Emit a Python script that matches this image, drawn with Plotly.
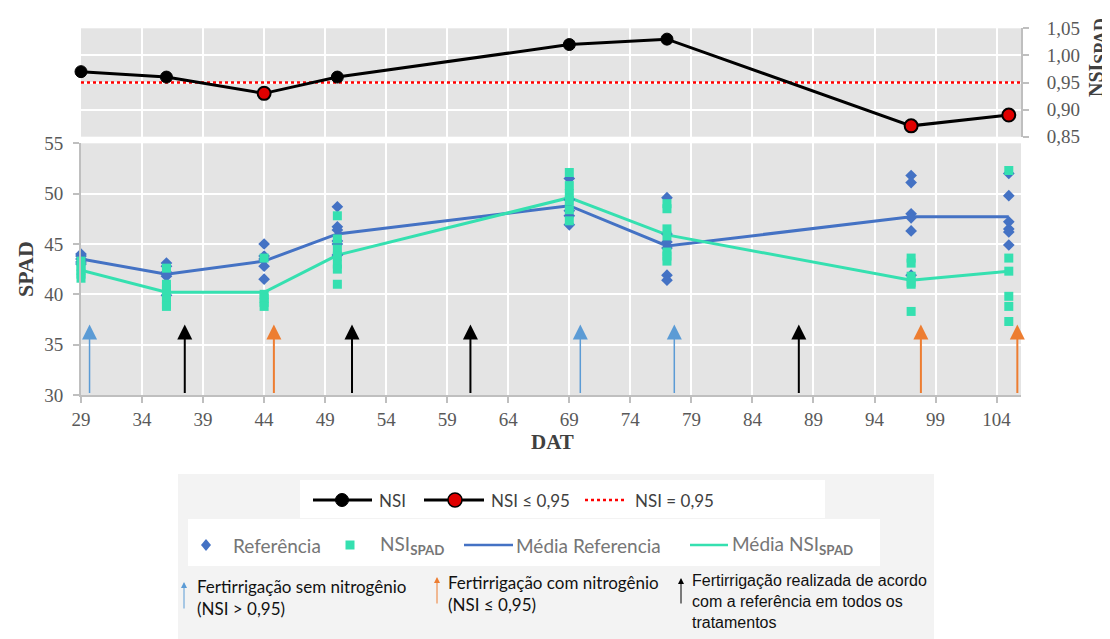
import plotly.graph_objects as go

# ---------------- data ----------------
dat = [29, 36, 44, 50, 69, 77, 97, 105]
nsi = [0.97, 0.96, 0.93, 0.96, 1.02, 1.03, 0.87, 0.89]
nsi_limite = 0.95

media_referencia = [43.5, 42.0, 43.3, 46.0, 48.8, 44.8, 47.7, 47.7]
media_nsi_spad = [42.4, 40.2, 40.2, 43.9, 49.6, 45.9, 41.4, 42.3]

referencia_pts = [
    [44.0, 43.8, 43.5, 43.2, 43.0],
    [43.1, 42.8, 42.2, 41.8, 42.0, 39.9],
    [45.0, 43.8, 43.5, 42.8, 41.5],
    [48.7, 46.7, 46.4, 45.0, 43.9, 45.3],
    [51.5, 49.4, 48.3, 47.8, 46.9],
    [49.6, 46.0, 45.2, 44.6, 41.9, 41.4],
    [51.8, 51.1, 48.0, 47.6, 46.3, 41.9],
    [52.0, 49.8, 47.2, 46.5, 46.2, 44.9],
]
nsi_spad_pts = [
    [43.3, 42.8, 42.4, 42.0, 41.6],
    [42.6, 41.0, 40.5, 40.0, 39.5, 39.0, 38.8],
    [43.6, 40.0, 39.6, 39.2, 38.8],
    [47.8, 45.5, 44.5, 43.8, 43.0, 42.5, 41.0],
    [52.1, 50.8, 50.0, 49.3, 48.4, 47.3],
    [49.0, 48.5, 46.5, 45.8, 44.2, 43.8, 43.3],
    [43.6, 43.1, 41.8, 41.2, 41.0, 38.3],
    [52.3, 43.6, 42.3, 39.8, 38.8, 37.3],
]

fert_sem_n = [29.7, 69.9, 77.6]        # blue arrows
fert_com_n = [44.8, 97.8, 105.7]       # orange arrows
fert_ref = [37.5, 51.2, 60.9, 87.8]    # black arrows

x_ticks = list(range(29, 105, 5))
x_range = [29, 106]
spad_range = [30, 55]
nsi_range = [0.85, 1.05]

# ---------------- style ----------------
BLUE = "#4472C4"
TEAL = "#35E0B0"
ARROW_BLUE = "#5B9BD5"
ARROW_ORANGE = "#ED7D31"
GRID_BG = "#e4e4e4"
AXIS_LINE = "#bfbfbf"
TICK_COLOR = "#595959"
SERIF = "Liberation Serif, Times New Roman, serif"
SANS = "Lato, Open Sans, sans-serif"
ARIAL = "Liberation Sans, Arial, sans-serif"

OFF = 8                      # page offset of the plot div
W, H = 1110 - OFF, 639 - OFF
ML = 81 - OFF
MR = W - (1021 - OFF)
PW = W - ML - MR


def xp(px):
    """page pixel x -> paper fraction"""
    return (px - OFF - ML) / PW


def yp(py):
    """page pixel y -> paper fraction"""
    return 1 - (py - OFF) / H


fig = go.Figure()

# ---------------- bottom panel ----------------
fig.add_trace(go.Scatter(x=dat, y=media_referencia, mode="lines",
                         line=dict(color=BLUE, width=3), xaxis="x", yaxis="y"))
fig.add_trace(go.Scatter(x=dat, y=media_nsi_spad, mode="lines",
                         line=dict(color=TEAL, width=3), xaxis="x", yaxis="y"))
ref_x = [d for d, vals in zip(dat, referencia_pts) for _ in vals]
ref_y = [v for vals in referencia_pts for v in vals]
nsp_x = [d for d, vals in zip(dat, nsi_spad_pts) for _ in vals]
nsp_y = [v for vals in nsi_spad_pts for v in vals]
fig.add_trace(go.Scatter(x=ref_x, y=ref_y, mode="markers",
                         marker=dict(symbol="diamond", color=BLUE, size=9),
                         xaxis="x", yaxis="y", cliponaxis=False))
fig.add_trace(go.Scatter(x=nsp_x, y=nsp_y, mode="markers",
                         marker=dict(symbol="square", color=TEAL, size=9),
                         xaxis="x", yaxis="y", cliponaxis=False))

# ---------------- top panel ----------------
fig.add_trace(go.Scatter(x=x_range, y=[nsi_limite, nsi_limite], mode="lines",
                         line=dict(color="#ff0000", width=2.5, dash="dot"),
                         xaxis="x2", yaxis="y2"))
fig.add_trace(go.Scatter(x=dat, y=nsi, mode="lines+markers",
                         line=dict(color="black", width=3),
                         marker=dict(color="black", size=12, line=dict(color="black", width=1)),
                         xaxis="x2", yaxis="y2", cliponaxis=False))
low = [(d, v) for d, v in zip(dat, nsi) if v <= nsi_limite]
fig.add_trace(go.Scatter(x=[d for d, _ in low], y=[v for _, v in low], mode="markers",
                         marker=dict(color="#e00000", size=13, line=dict(color="black", width=2)),
                         xaxis="x2", yaxis="y2", cliponaxis=False))

# ---------------- arrows in plot ----------------
ARROW_TIP = 37.0
ARROW_BASE = 30.05
for days, col, w, s in [(fert_sem_n, ARROW_BLUE, 1.5, 2.0),
                        (fert_com_n, ARROW_ORANGE, 2, 1.5),
                        (fert_ref, "black", 2, 1.5)]:
    for d in days:
        fig.add_annotation(x=d, y=ARROW_TIP, ax=d, ay=ARROW_BASE,
                           xref="x", yref="y", axref="x", ayref="y",
                           text="", showarrow=True, arrowhead=2,
                           arrowsize=s, arrowwidth=w, arrowcolor=col,
                           standoff=0, startstandoff=0)

# ---------------- axes ----------------
tickfont = dict(family=SERIF, size=19, color=TICK_COLOR)
fig.update_layout(
    width=W, height=H, autosize=False,
    margin=dict(l=ML, r=MR, t=0, b=0, pad=0),
    paper_bgcolor="white", plot_bgcolor=GRID_BG,
    separators=",.",
    showlegend=False,
    xaxis=dict(domain=[0, 1], range=x_range, tickmode="array", tickvals=x_ticks,
               showgrid=True, gridcolor="white", gridwidth=2, zeroline=False,
               showline=True, linecolor=AXIS_LINE, linewidth=2,
               ticks="outside", ticklen=6, tickcolor=AXIS_LINE, tickwidth=1.5,
               tickfont=tickfont, anchor="y", automargin=False),
    yaxis=dict(domain=[yp(395), yp(143.3)], range=spad_range, tickmode="linear",
               tick0=30, dtick=5, showgrid=True, gridcolor="white", gridwidth=2,
               zeroline=False, showline=True, linecolor=AXIS_LINE, linewidth=2,
               ticks="outside", ticklen=6, tickcolor=AXIS_LINE, tickwidth=1.5,
               tickfont=tickfont, ticklabelstandoff=6, anchor="x", automargin=False),
    xaxis2=dict(domain=[0, 1], matches="x", range=x_range, tickmode="array",
                tickvals=x_ticks, showticklabels=False, showgrid=True,
                gridcolor="white", gridwidth=2, zeroline=False, showline=False,
                ticks="", anchor="y2", automargin=False),
    yaxis2=dict(domain=[yp(136.7), yp(28.3)], range=nsi_range, tickmode="linear",
                tick0=0.85, dtick=0.05, tickformat=".2f", side="right",
                showgrid=True, gridcolor="white", gridwidth=2, zeroline=False,
                showline=True, linecolor=AXIS_LINE, linewidth=2,
                ticks="outside", ticklen=6, tickcolor=AXIS_LINE, tickwidth=1.5,
                tickfont=tickfont, ticklabelstandoff=14, anchor="x2", automargin=False),
)

# axis titles
fig.add_annotation(text="<b>SPAD</b>", xref="paper", yref="paper",
                   x=xp(25), y=yp(269), xanchor="center", yanchor="middle",
                   textangle=-90, showarrow=False,
                   font=dict(family=SERIF, size=22, color="#404040"))
fig.add_annotation(text="<b>DAT</b>", xref="paper", yref="paper",
                   x=xp(552), y=yp(442), xanchor="center", yanchor="middle",
                   showarrow=False,
                   font=dict(family=SERIF, size=21, color="#404040"))
fig.add_annotation(text='<b>NSI<sub><span style="font-size:18px">SPAD</span></sub></b>',
                   xref="paper", yref="paper",
                   x=xp(1098), y=yp(58), xanchor="center", yanchor="middle",
                   textangle=-90, showarrow=False,
                   font=dict(family=SERIF, size=20, color="#404040"))

# ---------------- custom legend ----------------
def rect(x0, x1, y0, y1, fill, layer="below"):
    fig.add_shape(type="rect", xref="paper", yref="paper", layer=layer,
                  x0=xp(x0), x1=xp(x1), y0=yp(y1), y1=yp(y0),
                  fillcolor=fill, line=dict(width=0))


rect(178, 934, 474, 639, "#f3f3f3")
rect(300, 825, 480, 518, "white")
rect(188, 880, 519, 566, "white")


def leg_line(x0, x1, y, color, width, dash="solid"):
    fig.add_shape(type="line", xref="paper", yref="paper",
                  x0=xp(x0), x1=xp(x1), y0=yp(y), y1=yp(y),
                  line=dict(color=color, width=width, dash=dash))


def leg_circle(cx, cy, r, fill, lw):
    fig.add_shape(type="circle", xref="paper", yref="paper",
                  x0=xp(cx - r), x1=xp(cx + r), y0=yp(cy + r), y1=yp(cy - r),
                  fillcolor=fill, line=dict(color="black", width=lw))


def leg_text(x, y, txt, size=17, color="#404040", family=SANS):
    fig.add_annotation(text=txt, xref="paper", yref="paper", x=xp(x), y=yp(y),
                       xanchor="left", yanchor="middle", align="left", showarrow=False,
                       font=dict(family=family, size=size, color=color))


ROW1 = 500
leg_line(313, 372, ROW1, "black", 3)
leg_circle(342, ROW1, 6.5, "black", 1)
leg_text(377, ROW1, "NSI")
leg_line(424, 484, ROW1, "black", 3)
leg_circle(455, ROW1, 7, "#e00000", 1.5)
leg_text(489, ROW1, "NSI ≤ 0,95")
leg_line(585, 625, ROW1, "#ff0000", 2.5, "dot")
leg_text(633, ROW1, "NSI = 0,95")

ROW2 = 545
cx, hw, hh = 206, 5, 6
fig.add_shape(type="path", xref="paper", yref="paper",
              path=f"M {xp(cx)},{yp(ROW2 - hh)} L {xp(cx + hw)},{yp(ROW2)} "
                   f"L {xp(cx)},{yp(ROW2 + hh)} L {xp(cx - hw)},{yp(ROW2)} Z",
              fillcolor=BLUE, line=dict(width=0))
leg_text(231, ROW2, "Referência", size=19, color="#767676")
sq = 4.5
rect(350 - sq, 350 + sq, ROW2 - sq, ROW2 + sq, TEAL, layer="above")
leg_text(378, ROW2, "NSI<sub><b>SPAD</b></sub>", size=19, color="#767676")
leg_line(464, 513, ROW2, BLUE, 2.5)
leg_text(514, ROW2, "Média Referencia", size=19, color="#767676")
leg_line(690, 728, ROW2, TEAL, 2.5)
leg_text(730, ROW2, "Média NSI<sub><b>SPAD</b></sub>", size=19, color="#767676")

# row 3 small arrows
for x, ytip, ybase, col in [(184, 582, 610, ARROW_BLUE), (437, 577, 605, ARROW_ORANGE),
                            (681, 578, 605, "black")]:
    fig.add_annotation(x=xp(x), y=yp(ytip), xref="paper", yref="paper",
                       ax=0, ay=ybase - ytip, text="", showarrow=True,
                       arrowhead=2, arrowsize=1.2, arrowwidth=1, arrowcolor=col,
                       standoff=0, startstandoff=0)
leg_text(195, 597, "Fertirrigação sem nitrogênio<br>(NSI > 0,95)", size=17, color="#111111")
leg_text(446, 593, "Fertirrigação com nitrogênio<br>(NSI ≤ 0,95)", size=17, color="#111111")
leg_text(690, 601.5, "Fertirrigação realizada de acordo<br>com a referência em todos os<br>tratamentos",
         size=16, color="#111111", family=ARIAL)

fig.write_html("out.html")
